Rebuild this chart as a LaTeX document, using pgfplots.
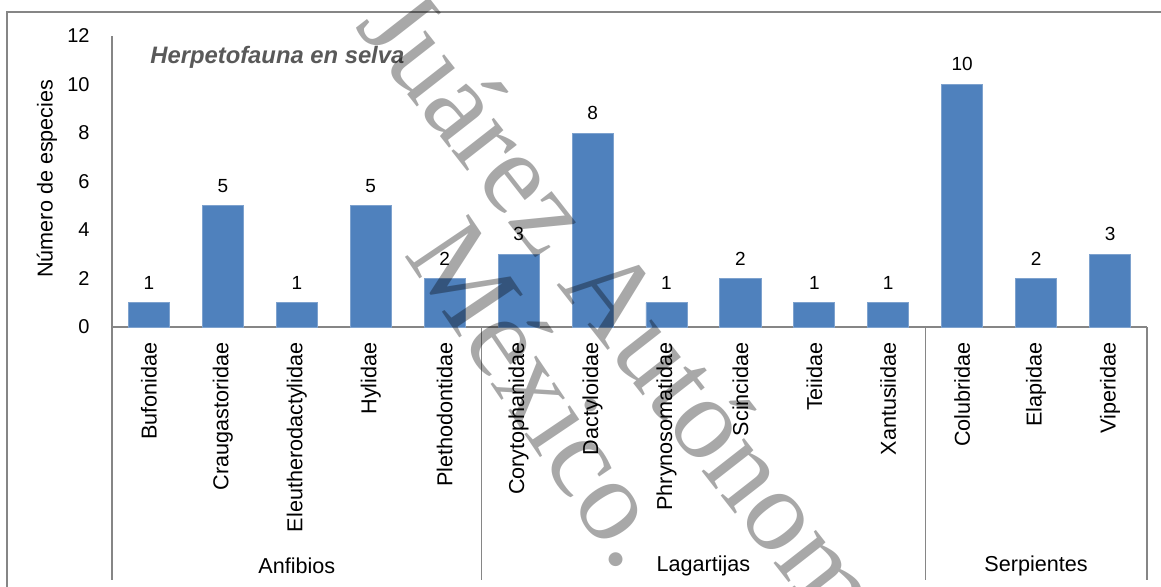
\documentclass[border=0pt]{standalone}
\usepackage{pgfplots}
\pgfplotsset{compat=1.18}
\usepackage{fontspec}
\setmainfont{Liberation Sans}
\newfontfamily\wmfont{Liberation Serif}
\definecolor{barblue}{HTML}{4F81BD}
\definecolor{baredge}{HTML}{7EA2CE}
\definecolor{axgray}{HTML}{868686}
\definecolor{titlegray}{HTML}{595959}

\begin{document}
\begin{tikzpicture}[x=1pt,y=1pt]
\begin{axis}[
  name=ax,
  scale only axis, width=517.5pt, height=145.5pt,
  xmin=-0.5, xmax=13.5, ymin=0, ymax=12,
  clip=false,
  axis x line=bottom, axis y line=left,
  axis line style={axgray, line width=0.6pt, -},
  ytick={0,2,...,12},
  xtick=data,
  xticklabels={Bufonidae,Craugastoridae,Eleutherodactylidae,Hylidae,Plethodontidae,
    Corytophanidae,Dactyloidae,Phrynosomatidae,Scincidae,Teiidae,Xantusiidae,
    Colubridae,Elapidae,Viperidae},
  major tick length=0pt,
  /pgf/number format/assume math mode=true,
  xticklabel style={rotate=90, anchor=east, inner sep=0pt, font=\fontsize{10.8}{12}\selectfont},
  xticklabel shift=7.5pt,
  yticklabel style={anchor=east, inner sep=0pt, font=\fontsize{10}{12}\selectfont},
  yticklabel shift=11pt,
  ylabel={Número de especies},
  ylabel style={at={(axis description cs:-0.0628,0.51)}, anchor=center, font=\fontsize{10.8}{12}\selectfont},
  ybar, bar width=0.555,
  nodes near coords,
  every node near coord/.append style={font=\fontsize{9.5}{11}\selectfont, anchor=south, inner sep=0pt, yshift=6.5pt, text=black},
]
\addplot[fill=barblue, draw=baredge, line width=0.4pt] coordinates {
  (0,1) (1,5) (2,1) (3,5) (4,2)
  (5,3) (6,8) (7,1) (8,2) (9,1) (10,1)
  (11,10) (12,2) (13,3)
};
% group separators below the category axis
\pgfplotsinvokeforeach{-0.5,4.5,10.5,13.5}{
  \draw[axgray, line width=0.6pt] (axis cs:#1,0) -- ++(0pt,-126.5pt);
}
\node[font=\fontsize{10.8}{12}\selectfont] at (axis cs:2,0) [yshift=-119.5pt] {Anfibios};
\node[font=\fontsize{10.8}{12}\selectfont] at (axis cs:7.5,0) [yshift=-119.5pt] {Lagartijas};
\node[font=\fontsize{10.8}{12}\selectfont] at (axis cs:12,0) [yshift=-119.5pt] {Serpientes};
\end{axis}
% page coordinates: the plot area's lower left corner sits at (56,129.5)
\begin{scope}[shift={(ax.south west)}]
\begin{scope}[shift={(-56,-129.5)}]
% outer chart frame
\draw[axgray, line width=0.75pt] (3.5,287) rectangle (600,-10);
% chart title
\node[anchor=base west, inner sep=0pt, text=titlegray, font=\fontsize{11.9}{13}\selectfont\bfseries\itshape] at (75,261.5) {Herpetofauna en selva};
% institutional watermark
\node[anchor=base west, inner sep=0pt, rotate=-52, text opacity=0.34, font=\wmfont\fontsize{58.5}{60}\selectfont] at (177,280) {Juárez Autónoma};
\node[anchor=base west, inner sep=0pt, rotate=-56, text opacity=0.34, font=\wmfont\fontsize{58.5}{60}\selectfont] at (201.5,166) {México.};
% page area
\pgfresetboundingbox
\path[use as bounding box] (0,0) rectangle (580.5,293);
\end{scope}
\end{scope}
\end{tikzpicture}
\end{document}
